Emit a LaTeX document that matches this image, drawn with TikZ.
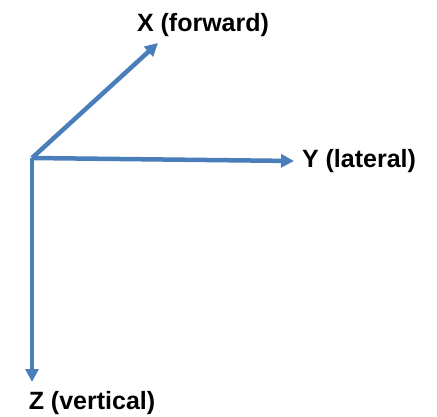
\documentclass[tikz,border=0pt]{standalone}
\usepackage{fontspec}
\setmainfont{Liberation Sans}
\usetikzlibrary{arrows.meta}
\definecolor{axisblue}{HTML}{4A7EBB}
\begin{document}
\begin{tikzpicture}[x=1pt,y=1pt,
  axis/.style={draw=axisblue,line width=4.5pt,-{Triangle[length=13pt,width=13pt]}},
  lbl/.style={font=\fontsize{25}{28}\selectfont\bfseries,inner sep=0pt}]
\useasboundingbox (0,0) rectangle (437,416);
\coordinate (O) at (32,258);
\coordinate (xt) at (158,373);
\coordinate (yt) at (294,255);
\coordinate (zt) at (32,34);
\node[lbl] (xl) at (203,391) {X (forward)};
\node[lbl] (yl) at (359,255) {Y (lateral)};
\node[lbl] (zl) at (92,13) {Z (vertical)};
\draw[axis] (O) -- (xt);
\draw[axis] (O) -- (yt);
\draw[axis] (O) -- (zt);
\end{tikzpicture}
\end{document}
